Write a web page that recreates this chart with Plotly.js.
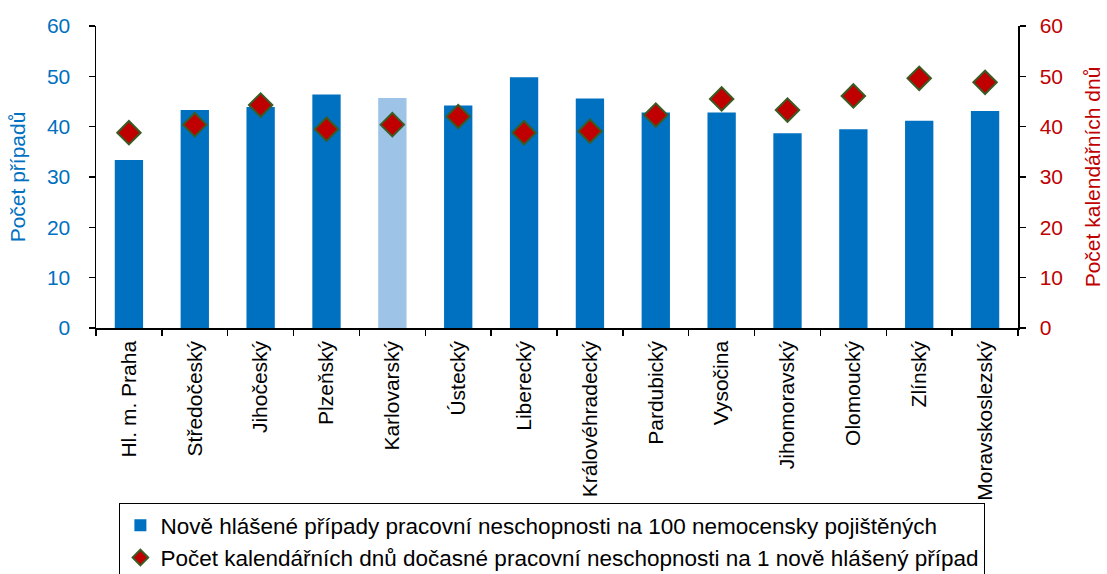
<!DOCTYPE html>
<html>
<head>
<meta charset="utf-8">
<script src="https://cdn.plot.ly/plotly-3.0.1.min.js"></script>
<style>html,body{margin:0;padding:0;background:#fff;}#chart{width:1107px;height:574px;}</style>
</head>
<body>
<div id="chart"></div>
<script>
const categories = ["Hl. m. Praha","Středočeský","Jihočeský","Plzeňský","Karlovarský","Ústecký","Liberecký","Královéhradecký","Pardubický","Vysočina","Jihomoravský","Olomoucký","Zlínský","Moravskoslezský"];
const casesPer100 = [33.4,43.3,43.9,46.4,45.7,44.2,49.8,45.6,42.8,42.8,38.7,39.5,41.2,43.1];
const daysPerCase = [38.8,40.4,44.3,39.5,40.4,42.0,38.8,39.1,42.3,45.5,43.3,46.1,49.6,48.8];
const highlighted = "Karlovarský";
const yTicks = [0,10,20,30,40,50,60];

const seriesNames = [
  "Nově hlášené případy pracovní neschopnosti na 100 nemocensky pojištěných",
  "Počet kalendářních dnů dočasné pracovní neschopnosti na 1 nově hlášený případ"
];

const barColors = categories.map(c => c === highlighted ? "#9DC3E6" : "#0070C0");
const FONT = "Liberation Sans, Arial, sans-serif";
const FS = 21;

const traces = [
  {
    type: "bar",
    x: categories,
    y: casesPer100,
    name: seriesNames[0],
    marker: {color: barColors},
    width: 0.43,
    xaxis: "x",
    yaxis: "y"
  },
  {
    type: "scatter",
    mode: "markers",
    x: categories,
    y: daysPerCase,
    name: seriesNames[1],
    marker: {symbol: "diamond", size: 18, color: "#C00000", line: {color: "#3B5B24", width: 2}},
    xaxis: "x",
    yaxis: "y2"
  }
];

const n = categories.length;
const layout = {
  width: 1107,
  height: 574,
  margin: {l: 96, r: 89, t: 26, b: 246, autoexpand: false},
  paper_bgcolor: "#ffffff",
  plot_bgcolor: "#ffffff",
  font: {family: FONT, size: FS, color: "#000000"},
  showlegend: true,
  xaxis: {
    type: "category",
    range: [-0.5, n - 0.5],
    tickson: "boundaries",
    ticks: "outside",
    ticklen: 6,
    tickcolor: "#000000",
    tickwidth: 1.5,
    tickangle: -90,
    ticklabelstandoff: 3,
    showgrid: false,
    showline: true,
    linecolor: "#000000",
    linewidth: 1.5,
    automargin: false,
    tickfont: {family: FONT, size: FS, color: "#000000"}
  },
  xaxis2: {
    overlaying: "x",
    anchor: "y",
    range: [-0.5, n - 0.5],
    dtick: 0.5,
    tick0: -0.5,
    showgrid: true,
    gridcolor: "#EBEBEB",
    gridwidth: 1,
    showticklabels: false,
    ticks: "",
    showline: false,
    zeroline: false
  },
  yaxis: {
    range: [0, 60],
    tickvals: yTicks,
    ticks: "outside",
    ticklen: 6,
    tickwidth: 1.5,
    tickcolor: "#000000",
    ticklabelstandoff: 14,
    showgrid: false,
    zeroline: false,
    showline: true,
    linecolor: "#000000",
    linewidth: 1.5,
    automargin: false,
    tickfont: {family: FONT, size: FS, color: "#0070C0"},
    title: {text: "Počet případů", font: {family: FONT, size: FS, color: "#0070C0"}, standoff: 15}
  },
  yaxis2: {
    overlaying: "y",
    side: "right",
    range: [0, 60],
    tickvals: yTicks,
    ticks: "outside",
    ticklen: 6,
    tickwidth: 1.5,
    tickcolor: "#000000",
    ticklabelstandoff: 10,
    showgrid: false,
    zeroline: false,
    showline: true,
    linecolor: "#000000",
    linewidth: 1.5,
    automargin: false,
    tickfont: {family: FONT, size: FS, color: "#C00000"},
    title: {text: "Počet kalendářních dnů", font: {family: FONT, size: FS, color: "#C00000"}, standoff: 23}
  },
  legend: {
    orientation: "v",
    x: 0.495,
    xanchor: "center",
    y: -0.58,
    yanchor: "top",
    bordercolor: "#000000",
    borderwidth: 1,
    bgcolor: "#ffffff",
    font: {family: FONT, size: 22.5, color: "#000000"},
    itemwidth: 30,
    itemsizing: "constant",
    tracegroupgap: 0
  }
};

Plotly.newPlot("chart", traces, layout, {staticPlot: true, displayModeBar: false});
</script>
</body>
</html>
